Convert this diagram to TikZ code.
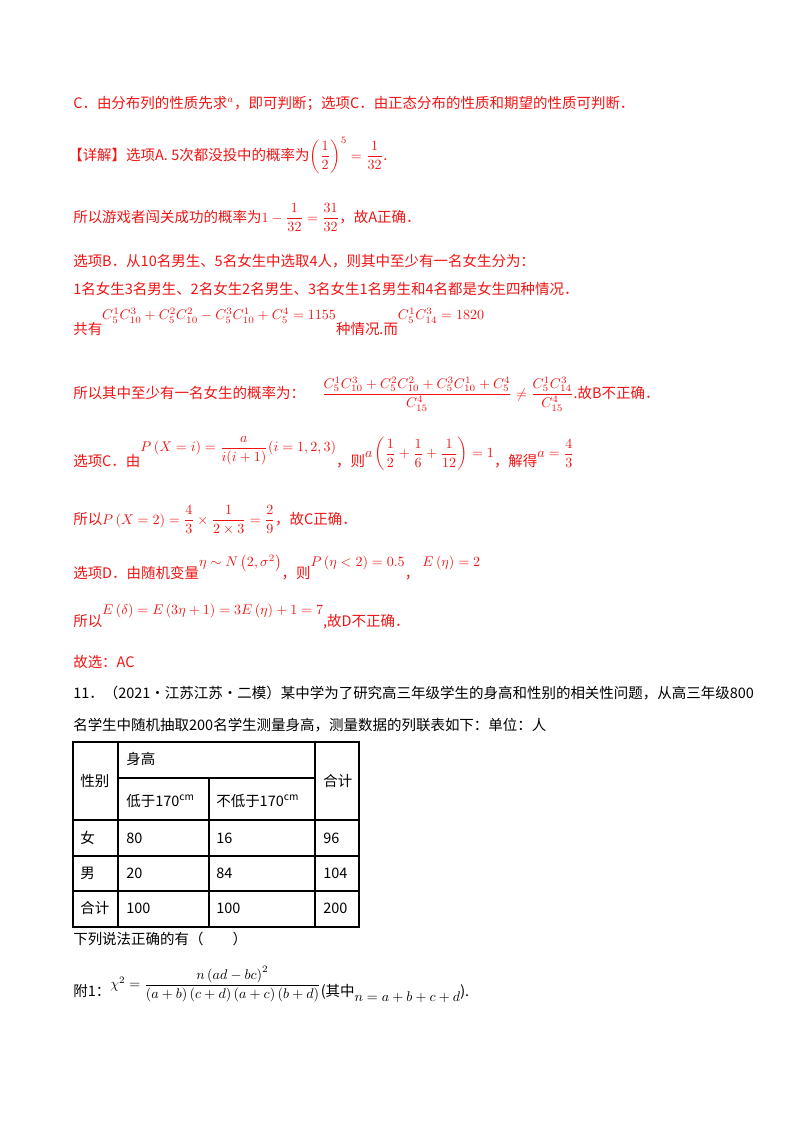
\documentclass[tikz,border=0pt]{standalone}
\usepackage{fontspec}
\usepackage{amsmath}
\setmainfont{Noto Sans CJK SC}
\begin{document}
\begin{tikzpicture}[x=0.025cm,y=-0.025cm]
    \tikzstyle{every node}=[inner sep=0pt, anchor=base west, font=\fontsize{10.3}{12}\selectfont]
    \tikzstyle{red txt}=[text={rgb,255:red,240;green,20;blue,20}]
    \tikzstyle{grid}=[line width=0.8pt]
    \useasboundingbox (0,0) rectangle (800,1132);

% solution text in red
    \node [red txt] (optC) at (73,108) {C．由分布列的性质先求$^{a}$，即可判断；选项C．由正态分布的性质和期望的性质可判断．};
    \node [red txt] (detA) at (68,160) {【详解】选项A. 5次都没投中的概率为$\left(\dfrac{1}{2}\right)^{5}=\dfrac{1}{32}$.};
    \node [red txt] (succA) at (73,222) {所以游戏者闯关成功的概率为$1-\dfrac{1}{32}=\dfrac{31}{32}$，故A正确．};
    \node [red txt] (optB) at (73,266) {选项B．从10名男生、5名女生中选取4人，则其中至少有一名女生分为：};
    \node [red txt] (cases) at (73,294) {1名女生3名男生、2名女生2名男生、3名女生1名男生和4名都是女生四种情况．};
    \node [red txt] (total) at (73,334) {共有\raisebox{10pt}{$C_5^1C_{10}^3+C_5^2C_{10}^2-C_5^3C_{10}^1+C_5^4=1155$}种情况.而\raisebox{10pt}{$C_5^1C_{14}^3=1820$}};
    \node [red txt] (probB) at (73,398) {所以其中至少有一名女生的概率为：\hspace{12pt}$\dfrac{C_5^1C_{10}^3+C_5^2C_{10}^2+C_5^3C_{10}^1+C_5^4}{C_{15}^4}\neq\dfrac{C_5^1C_{14}^3}{C_{15}^4}$.故B不正确．};
    \node [red txt] (optC2) at (73,466) {选项C．由\raisebox{10pt}{$P\left(X=i\right)=\dfrac{a}{i(i+1)}(i=1,2,3)$}，则\raisebox{6pt}{$a\left(\dfrac{1}{2}+\dfrac{1}{6}+\dfrac{1}{12}\right)=1$}，解得\raisebox{6pt}{$a=\dfrac{4}{3}$}};
    \node [red txt] (resC) at (73,524) {所以$P\left(X=2\right)=\dfrac{4}{3}\times\dfrac{1}{2\times3}=\dfrac{2}{9}$，故C正确．};
    \node [red txt] (optD) at (73,578) {选项D．由随机变量\raisebox{8pt}{$\eta\sim N\left(2,\sigma^2\right)$}，则\raisebox{8pt}{$P\left(\eta<2\right)=0.5$}，\ \raisebox{8pt}{$E\left(\eta\right)=2$}};
    \node [red txt] (resD) at (73,626) {所以\raisebox{8pt}{$E\left(\delta\right)=E\left(3\eta+1\right)=3E\left(\eta\right)+1=7$},故D不正确．};
    \node [red txt] (ans) at (73,667) {故选：AC};

% problem 11
    \node (q11) at (73,698) {11．（2021·江苏江苏·二模）某中学为了研究高三年级学生的身高和性别的相关性问题，从高三年级800};
    \node (q11b) at (73,730) {名学生中随机抽取200名学生测量身高，测量数据的列联表如下：单位：人};

% table
    \draw [grid] (73,742) rectangle (359,927);
    \draw [grid] (118,742) -- (118,927);
    \draw [grid] (315,742) -- (315,927);
    \draw [grid] (209,778) -- (209,927);
    \draw [grid] (118,778) -- (315,778);
    \foreach \y in {820,856,891} \draw [grid] (73,\y) -- (359,\y);

    \node (sex) at (80,786) {性别};
    \node (height) at (126,764) {身高};
    \node (sum) at (323,786) {合计};
    \node (low) at (126,806) {低于170$^{\text{cm}}$};
    \node (high) at (216,806) {不低于170$^{\text{cm}}$};
    \node (fem) at (80,843) {女};
    \node (f1) at (126,843) {80};
    \node (f2) at (216,843) {16};
    \node (f3) at (323,843) {96};
    \node (mal) at (80,878) {男};
    \node (m1) at (126,878) {20};
    \node (m2) at (216,878) {84};
    \node (m3) at (323,878) {104};
    \node (tot) at (80,913) {合计};
    \node (t1) at (126,913) {100};
    \node (t2) at (216,913) {100};
    \node (t3) at (323,913) {200};

    \node (ask) at (73,944) {下列说法正确的有（\qquad）};
    \node (note) at (73,996) {附1：\raisebox{5pt}{$\chi^2=\dfrac{n\left(ad-bc\right)^2}{\left(a+b\right)\left(c+d\right)\left(a+c\right)\left(b+d\right)}$}(其中\raisebox{-4pt}{$n=a+b+c+d$}).};
\end{tikzpicture}
\end{document}
